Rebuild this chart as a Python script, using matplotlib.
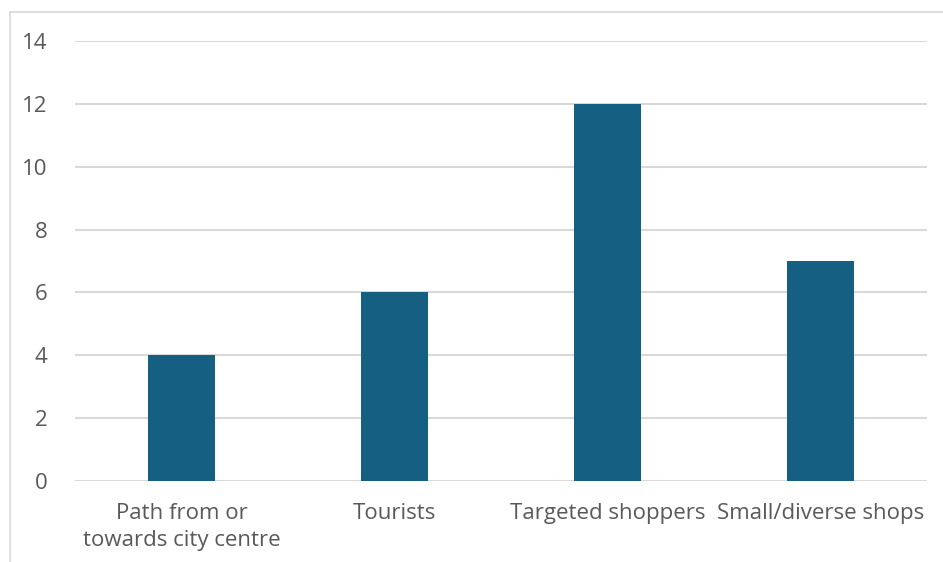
import matplotlib.pyplot as plt
import matplotlib
from matplotlib.lines import Line2D
import numpy as np

matplotlib.rcParams['font.family'] = ['Open Sans', 'DejaVu Sans']

categories = ["Path from or\ntowards city centre", "Tourists", "Targeted shoppers", "Small/diverse shops"]
values = [4, 6, 12, 7]
yticks = [0, 2, 4, 6, 8, 10, 12, 14]

bar_color = '#156082'
grid_color = '#D9D9D9'
text_color = '#595959'

fig = plt.figure(figsize=(9.43, 5.62), dpi=100)
ax = fig.add_axes([75/943, 1 - 481/562, 852/943, 440/562])

x = np.arange(len(categories))
ax.bar(x, values, width=0.315, color=bar_color, zorder=3)

ax.set_xlim(-0.5, len(categories) - 0.5)
ax.set_ylim(0, 14)
ax.set_yticks(yticks)
ax.set_yticklabels([str(v) for v in yticks])
ax.set_xticks(x)
ax.set_xticklabels(categories, linespacing=1.35)
ax.grid(axis='y', color=grid_color, linewidth=1.5, zorder=0)
for s in ['top', 'right', 'left', 'bottom']:
    ax.spines[s].set_visible(False)
ax.tick_params(axis='both', length=0, labelsize=16, colors=text_color)
ax.tick_params(axis='y', pad=20)
ax.tick_params(axis='x', pad=16)

# chart-area border (only left and top are inside the crop)
fig.add_artist(Line2D([10/943, 10/943], [0, 1 - 12/562], color=grid_color, linewidth=1.2, transform=fig.transFigure))
fig.add_artist(Line2D([10/943, 1], [1 - 12/562, 1 - 12/562], color=grid_color, linewidth=1.2, transform=fig.transFigure))

fig.savefig('out.png', dpi=100)
